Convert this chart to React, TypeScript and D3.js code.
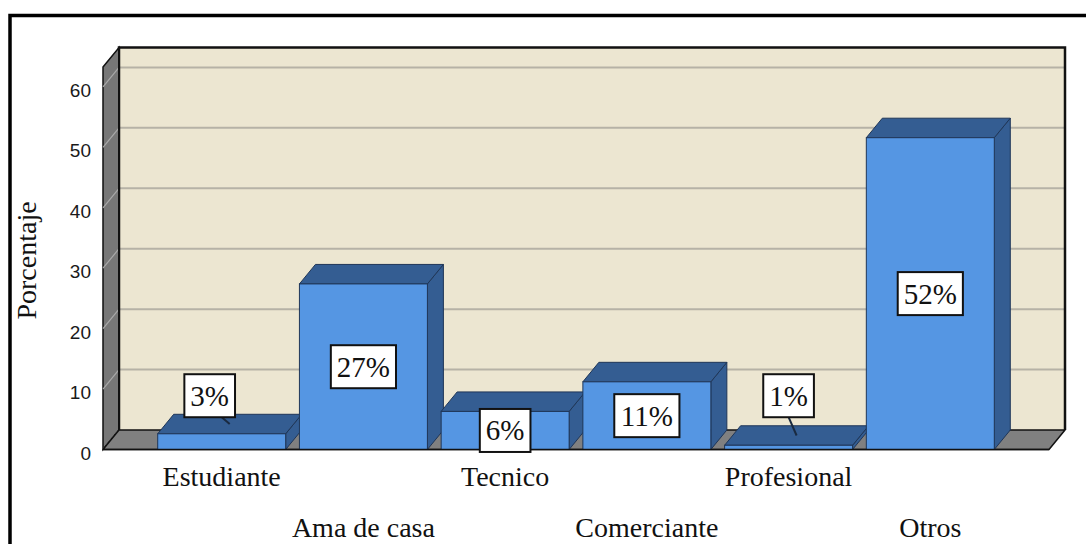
import React from "react";
import * as d3 from "d3";

const categories = ["Estudiante", "Ama de casa", "Tecnico", "Comerciante", "Profesional", "Otros"];
const percentages = [2.6, 27.4, 6.3, 11.2, 0.7, 51.6];
const yTicks = [0, 10, 20, 30, 40, 50, 60];
const yAxisTitle = "Porcentaje";

// layout / style constants
const W = 1086;
const H = 544;
const FRONT_LEFT = 103;
const FRONT_RIGHT = 1049;
const DX = 16;
const DY = -19.5;
const Y_MAX = 63.3;
const SMALL_LABEL_VALUE = 8.9; // where labels of short bars are lifted to
const labelShiftX: Record<string, number> = { Estudiante: -12 };

const C = {
  wall: "#ECE6D1",
  grid: "#B6B2A6",
  side: "#777777",
  sideGrid: "#A9A9A9",
  floor: "#808080",
  front: "#5596E3",
  dark: "#345D92",
  barStroke: "#1F3658",
  edge: "#111111",
};

const x = d3
  .scaleBand<string>()
  .domain(categories)
  .range([FRONT_LEFT, FRONT_RIGHT])
  .paddingInner(0.097)
  .paddingOuter(0.386);

const y = d3.scaleLinear().domain([0, Y_MAX]).range([449.5, 67]);

const pts = (arr: [number, number][]) => arr.map((p) => p.join(",")).join(" ");

export default function App() {
  const y0 = y(0);
  const yTop = y(Y_MAX);
  const bw = x.bandwidth();
  const fmt = (v: number) => `${Math.round(v)}%`;

  return (
    <svg
      width={W}
      height={H}
      style={{ position: "absolute", left: 0, top: 0, display: "block", background: "#fff" }}
    >
      {/* outer frame */}
      <rect x={10} y={15.5} width={1300} height={800} fill="none" stroke="#000" strokeWidth={3.5} />

      {/* back wall */}
      <polygon
        points={pts([
          [FRONT_LEFT + DX, yTop + DY],
          [FRONT_RIGHT + DX, yTop + DY],
          [FRONT_RIGHT + DX, y0 + DY],
          [FRONT_LEFT + DX, y0 + DY],
        ])}
        fill={C.wall}
      />
      {/* back wall gridlines */}
      {yTicks
        .filter((t) => t > 0)
        .map((t) => (
          <line
            key={"g" + t}
            x1={FRONT_LEFT + DX}
            x2={FRONT_RIGHT + DX}
            y1={y(t) + DY}
            y2={y(t) + DY}
            stroke={C.grid}
            strokeWidth={2}
          />
        ))}
      {/* back wall top / right edges */}
      <polyline
        points={pts([
          [FRONT_LEFT + DX, y0 + DY],
          [FRONT_LEFT + DX, yTop + DY],
          [FRONT_RIGHT + DX, yTop + DY],
          [FRONT_RIGHT + DX, y0 + DY],
        ])}
        fill="none"
        stroke={C.edge}
        strokeWidth={2.5}
      />

      {/* left side wall */}
      <polygon
        points={pts([
          [FRONT_LEFT, yTop],
          [FRONT_LEFT + DX, yTop + DY],
          [FRONT_LEFT + DX, y0 + DY],
          [FRONT_LEFT, y0],
        ])}
        fill={C.side}
        stroke={C.edge}
        strokeWidth={1.5}
      />
      {yTicks.map((t) => (
        <line
          key={"s" + t}
          x1={FRONT_LEFT}
          y1={y(t)}
          x2={FRONT_LEFT + DX}
          y2={y(t) + DY}
          stroke={C.sideGrid}
          strokeWidth={1.2}
          strokeDasharray={t === 0 ? "3,2" : undefined}
        />
      ))}
      <line x1={FRONT_LEFT + DX} x2={FRONT_LEFT + DX} y1={yTop + DY} y2={y0 + DY} stroke={C.edge} strokeWidth={2} />

      {/* floor */}
      <polygon
        points={pts([
          [FRONT_LEFT, y0],
          [FRONT_LEFT + DX, y0 + DY],
          [FRONT_RIGHT + DX, y0 + DY],
          [FRONT_RIGHT, y0],
        ])}
        fill={C.floor}
        stroke={C.edge}
        strokeWidth={1.5}
        strokeLinejoin="round"
      />

      {/* bars */}
      {categories.map((c, i) => {
        const v = percentages[i];
        const bx = x(c)!;
        const by = y(v);
        return (
          <g key={c}>
            <polygon
              points={pts([
                [bx + bw, by],
                [bx + bw + DX, by + DY],
                [bx + bw + DX, y0 + DY],
                [bx + bw, y0],
              ])}
              fill={C.dark}
              stroke={C.barStroke}
              strokeWidth={1}
            />
            <polygon
              points={pts([
                [bx, by],
                [bx + DX, by + DY],
                [bx + bw + DX, by + DY],
                [bx + bw, by],
              ])}
              fill={C.dark}
              stroke={C.barStroke}
              strokeWidth={1}
            />
            <rect x={bx} y={by} width={bw} height={y0 - by} fill={C.front} stroke={C.barStroke} strokeWidth={1} />
          </g>
        );
      })}
      {/* front baseline */}
      <line x1={FRONT_LEFT} x2={FRONT_RIGHT} y1={y0} y2={y0} stroke={C.edge} strokeWidth={1.5} />

      {/* value labels */}
      {categories.map((c, i) => {
        const v = percentages[i];
        const label = fmt(v);
        const cx = x(c)! + bw / 2;
        const by = y(v);
        const small = y0 - by < 30;
        const cy = small ? y(SMALL_LABEL_VALUE) : (by + y0) / 2;
        const bxC = cx + (small ? labelShiftX[c] ?? 0 : 0);
        const fs = 29;
        const boxW = 12 + fs * (0.5 * (label.length - 1) + 0.833);
        const boxH = 43;
        return (
          <g key={"l" + c}>
            {small && (
              <line
                x1={cx}
                y1={cy + boxH / 2}
                x2={cx + DX / 2}
                y2={by + DY / 2}
                stroke="#1a2a40"
                strokeWidth={2}
              />
            )}
            <rect
              x={bxC - boxW / 2}
              y={cy - boxH / 2}
              width={boxW}
              height={boxH}
              fill="#fff"
              stroke="#111"
              strokeWidth={2}
            />
            <text
              x={bxC}
              y={cy + 10}
              textAnchor="middle"
              fontFamily="'Liberation Serif', 'Times New Roman', serif"
              fontSize={fs}
              fill="#111"
            >
              {label}
            </text>
          </g>
        );
      })}

      {/* y tick labels */}
      {yTicks.map((t) => (
        <text
          key={"t" + t}
          x={91}
          y={y(t) + 3.5}
          textAnchor="end"
          dominantBaseline="central"
          fontFamily="'Liberation Sans', Arial, sans-serif"
          fontSize={19}
          fill="#1a1a1a"
        >
          {t}
        </text>
      ))}

      {/* y axis title */}
      <text
        transform="translate(36,260.5) rotate(-90)"
        textAnchor="middle"
        fontFamily="'Liberation Serif', 'Times New Roman', serif"
        fontSize={28}
        fill="#111"
      >
        {yAxisTitle}
      </text>

      {/* category labels (staggered) */}
      {categories.map((c, i) => (
        <text
          key={"c" + c}
          x={x(c)! + bw / 2}
          y={i % 2 === 0 ? 486 : 537}
          textAnchor="middle"
          fontFamily="'Liberation Serif', 'Times New Roman', serif"
          fontSize={28}
          fill="#111"
        >
          {c}
        </text>
      ))}
    </svg>
  );
}
